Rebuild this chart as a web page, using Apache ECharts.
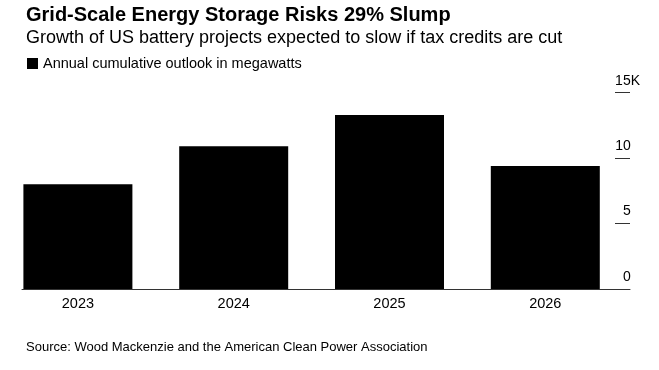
<!DOCTYPE html>
<html>
<head>
<meta charset="utf-8">
<script src="https://cdn.jsdelivr.net/npm/echarts@6/dist/echarts.min.js"></script>
<style>
html,body{margin:0;padding:0;background:#fff;}
#c{width:659px;height:370px;}
</style>
</head>
<body>
<div id="c"></div>
<script>
const categories = ['2023', '2024', '2025', '2026'];
const outlookMW = [8000, 10900, 13300, 9400];
const yTicks = [0, 5000, 10000, 15000];
const seriesName = 'Annual cumulative outlook in megawatts';

const FONT = '"Liberation Sans", Arial, Helvetica, sans-serif';
const chart = echarts.init(document.getElementById('c'), null, {renderer: 'canvas'});

const yMin = yTicks[0], yMax = yTicks[yTicks.length - 1], yStep = yTicks[1] - yTicks[0];

chart.setOption({
  animation: false,
  backgroundColor: '#fff',
  textStyle: {fontFamily: FONT},
  title: [
    {text: 'Grid-Scale Energy Storage Risks 29% Slump', left: 21, top: 0,
     textStyle: {fontFamily: FONT, fontSize: 20, fontWeight: 'bold', color: '#000'}},
    {text: 'Growth of US battery projects expected to slow if tax credits are cut', left: 21, top: 24,
     textStyle: {fontFamily: FONT, fontSize: 18, fontWeight: 'normal', color: '#000'}},
    {text: 'Source: Wood Mackenzie and the American Clean Power Association', left: 21, top: 336,
     textStyle: {fontFamily: FONT, fontSize: 13, fontWeight: 'normal', color: '#000'}}
  ],
  legend: {
    left: 22, top: 51, icon: 'rect', itemWidth: 11, itemHeight: 11, itemGap: 6,
    textStyle: {fontFamily: FONT, fontSize: 14.5, color: '#000'},
    data: [seriesName]
  },
  grid: [
    {left: -1.6, right: 35.8, top: 92.7, bottom: 81},
    {left: 22, right: 29, top: 92.7, bottom: 81}
  ],
  xAxis: [
    {type: 'category', gridIndex: 0, data: categories,
     axisLine: {show: false}, axisTick: {show: false},
     axisLabel: {fontFamily: FONT, fontSize: 14.5, color: '#000', margin: 7}},
    {type: 'value', gridIndex: 1, min: 0, max: 1,
     axisLine: {show: true, onZero: false, lineStyle: {color: '#333', width: 1}},
     axisTick: {show: false}, axisLabel: {show: false}, splitLine: {show: false}}
  ],
  yAxis: [
    {type: 'value', gridIndex: 0, min: yMin, max: yMax, interval: yStep, show: false},
    {type: 'value', gridIndex: 1, min: yMin, max: yMax, interval: yStep, position: 'right',
     axisLine: {show: false, onZero: false},
     axisTick: {show: true, inside: true, length: 15, lineStyle: {color: '#333', width: 1}},
     splitLine: {show: false},
     axisLabel: {
       margin: 10, align: 'right', verticalAlign: 'bottom',
       padding: [0, 0, 5, 0],
       fontFamily: FONT, fontSize: 14, color: '#000',
       formatter: function (v) {
         if (v === yMax) return '{n|' + (v / 1000) + 'K}';
         return '{n|' + (v / 1000) + '}{s| }';
       },
       rich: {
         n: {fontFamily: FONT, fontSize: 14, color: '#000'},
         s: {fontFamily: FONT, fontSize: 14, width: 9.3}
       }
     }}
  ],
  series: [{
    name: seriesName, type: 'bar', xAxisIndex: 0, yAxisIndex: 0,
    data: outlookMW, barWidth: 109,
    itemStyle: {color: '#000'}
  }]
});
</script>
</body>
</html>
